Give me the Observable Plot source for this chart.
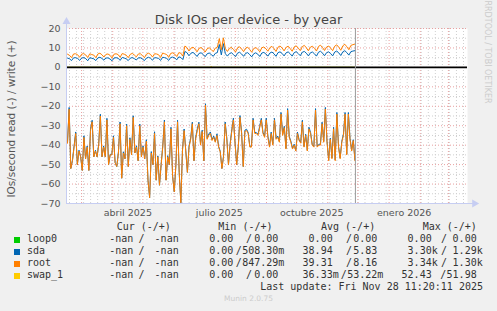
<!DOCTYPE html>
<html><head><meta charset="utf-8">
<script src="https://cdn.jsdelivr.net/npm/d3@7"></script>
<script src="https://cdn.jsdelivr.net/npm/@observablehq/plot@0.6"></script>
<style>
body{margin:0;background:#f0f0f0;}
#wrap{position:relative;width:497px;height:311px;overflow:hidden;background:#f0f0f0;font-family:"DejaVu Sans";}
#chart{position:absolute;left:0;top:0;}
.t{position:absolute;white-space:pre;}
.mono{font-family:"DejaVu Sans Mono";font-size:10px;line-height:10px;color:#333;}
</style></head><body><div id="wrap"><div id="chart"></div></div>
<script>
// ---------- data ----------
const title = "Disk IOs per device - by year";
const yLabel = "IOs/second read (-) / write (+)";
const sideText = "RRDTOOL / TOBI OETIKER";
const footer = "Munin 2.0.75";
const lastUpdate = "Last update: Fri Nov 28 11:20:11 2025";

const xDomain = ["2025-02-14", "2026-03-20"];
const nowTime = "2025-11-28T11:20:11Z";
const dataStart = "2025-02-15";
const dataEnd = "2025-11-28";

const xLabelDates = ["2025-04-16", "2025-07-16", "2025-10-16", "2026-01-16"];
const xLabels = ["abril 2025", "julio 2025", "octubre 2025", "enero 2026"];
const yMajor = [20, 10, 0, -10, -20, -30, -40, -50, -60, -70];
const yMinor = [15, 5, -5, -15, -25, -35, -45, -55, -65];

// read (negative) series
const rootRead = [-39,-21.5,-52,-48,-41,-34,-50,-43,-46,-53,-36,-47,-41,-53,-32.5,-28,-46,-43,-46,-40,-25,-46,-41,-46,-27,-50,-45,-45,-36,-49,-51,-44,-29,-57,-44,-47,-30,-51,-37,-45,-25.7,-44,-41,-48,-30,-46,-41,-47,-38,-58,-67,-44,-50,-34,-58,-46,-60.6,-50,-41,-28,-58,-46,-50,-31.6,-56,-64,-50,-28,-54,-69.6,-43,-32.5,-43,-54,-41,-37,-29,-48,-37,-32.5,-29,-40,-33,-48,
 -19.5,-37,-35,-34,-37.6,-36,-38.5,-35,-41,-43.5,-52,-46,-29,-37,-50,-40,-33,-27,-39,-50,-41,-25.7,-34,-51,-33,-32.5,-34,-41,-41,-27,-34,-34,-35,-31,-27,-34,-36,-27,-36,-41,-34,-40,-27,-37,-36,-38.5,-24,-35,-31,-42,-22,-36,-38.5,-42,-40,-43,-34,-37.6,-39,-28,-41,-35,-43,-31.6,-34,-40,-41,-22,-41,-40,-40,-29,-38.5,-21.4,-38.5,-48,-37,-47,-31.6,-48,-24,-41,-47,-38.5,-35,-24,-45,-24,-37,-43,-37.6,-48];
const sdaRead = [-38.5,-20.6,-52,-48,-40.5,-33.2,-50,-42.6,-46,-53,-35.2,-47,-40.4,-53,-31.8,-27.2,-46,-42.6,-46,-39.3,-24.1,-46,-40.4,-46,-26.2,-50,-44.7,-44.8,-35.2,-49,-51,-43.5,-28.1,-57,-43.4,-47,-29.2,-51,-36.2,-45,-24.9,-44,-40.3,-48,-29.2,-46,-40.4,-47,-37.2,-58,-67,-43.3,-50,-33.1,-58,-45.5,-60.6,-50,-40.3,-27.1,-58,-45.4,-50,-30.8,-56,-64,-50,-27.2,-54,-69.6,-42.4,-31.7,-42.6,-54,-40.4,-36.3,-28.2,-48,-36.3,-31.7,-28.2,-39.4,-32.3,-48,
 -18.7,-36.5,-34.3,-33.2,-37.2,-35.3,-38.2,-34.2,-40.6,-43.2,-52,-45.5,-28.1,-36.4,-50,-39.3,-32.2,-26.1,-38.6,-50,-40.4,-24.8,-33.4,-51,-32.3,-31.8,-33.5,-40.6,-40.5,-26.2,-33.4,-33.6,-34.4,-30.3,-26.2,-33.4,-35.5,-26.1,-35.4,-40.6,-33.3,-39.5,-26.2,-36.5,-35.3,-38.1,-23.2,-34.4,-30.3,-41.6,-21.2,-35.5,-38,-41.6,-39.5,-42.7,-33.3,-37.2,-38.5,-27.2,-40.6,-34.4,-42.6,-30.8,-33.5,-39.6,-40.6,-21.2,-40.5,-39.6,-39.4,-28.2,-38,-20.6,-38,-47.6,-36.4,-46.6,-30.8,-47.6,-23.2,-40.5,-46.6,-38,-34.3,-23.2,-44.6,-23.2,-36.5,-42.6,-37.2,-47.6];

// write (positive) series
const rootWrite = [6.8,6.2,5.0,6.9,7.0,6.5,5.2,6.8,7.1,6.4,5.1,7.0,6.6,6.3,5.0,6.9,7.3,6.5,5.3,6.7,6.9,6.2,4.9,6.8,7.0,6.6,5.2,7.1,6.8,6.3,5.0,6.7,7.2,6.4,5.4,6.9,7.0,6.1,5.0,6.8,7.3,6.7,5.3,7.0,6.9,6.5,5.1,7.4,7.0,6.6,5.2,7.2,7.5,6.8,5.6,7.6,7.3,5.8,
 11.0,10.2,8.4,9.9,10.4,9.4,8.0,9.8,10.2,9.3,7.9,9.6,10.1,9.2,8.1,9.9,10.3,14.8,9.0,15.2,9.6,8.2,9.8,10.3,9.2,7.9,10.0,10.6,9.5,8.1,9.9,10.4,9.2,7.8,9.7,10.2,9.4,8.0,10.1,10.5,9.6,8.3,10.2,10.8,9.7,8.2,10.4,11.0,10.0,8.5,10.3,10.9,9.7,8.3,10.5,11.1,9.9,8.6,10.7,11.3,10.1,8.5,10.4,10.9,9.8,8.4,10.8,11.4,10.2,8.7,10.5,11.0,9.9,8.6,10.9,11.6,10.4,8.8,11.1,11.9,10.6,9.1,11.3,11.7,12.0];
const sdaWrite = [4.8,4.4,3.5,4.9,5.0,4.6,3.6,4.8,5.1,4.5,3.4,5.0,4.7,4.4,3.5,4.9,5.2,4.6,3.7,4.8,4.9,4.3,3.4,4.8,5.0,4.7,3.6,5.1,4.8,4.4,3.5,4.7,5.1,4.5,3.8,4.9,5.0,4.3,3.5,4.8,5.2,4.7,3.7,5.0,4.9,4.6,3.6,5.2,5.0,4.6,3.6,5.1,5.3,4.8,3.9,5.4,5.1,4.0,
 8.2,7.6,6.0,7.3,7.7,6.8,5.6,7.2,7.5,6.7,5.5,7.0,7.4,6.6,5.7,7.2,7.6,11.8,6.4,12.2,7.0,5.8,7.1,7.5,6.6,5.5,7.3,7.8,6.9,5.7,7.2,7.6,6.6,5.4,7.0,7.5,6.8,5.6,7.4,7.7,6.9,5.8,7.4,7.9,7.0,5.7,7.6,8.0,7.2,5.9,7.5,8.0,7.0,5.8,7.6,8.1,7.1,6.0,7.8,8.2,7.3,5.9,7.5,7.9,7.0,5.8,7.8,8.3,7.3,6.0,7.6,8.0,7.1,5.9,7.9,8.4,7.5,6.1,8.0,8.6,7.6,6.3,8.1,8.4,8.6];
const loop0Pts = [["2025-02-15", 0], ["2025-11-28", 0]];
const swapWritePts = [["2025-02-15", 0], ["2025-07-07", 0], ["2025-07-08", 0.6], ["2025-07-09", 0], ["2025-11-28", 0]];
const swapReadPts = [["2025-02-15", 0], ["2025-11-28", 0]];

// legend
const legendNames = ["loop0", "sda", "root", "swap_1"];
const legendColors = ["#00cc00", "#0066b3", "#ff8000", "#ffcc00"];
const legendHeaders = ["Cur (-/+)", "Min (-/+)", "Avg (-/+)", "Max (-/+)"];
const curVals = [["-nan","-nan"],["-nan","-nan"],["-nan","-nan"],["-nan","-nan"]];
const minVals = [["0.00","0.00"],["0.00","508.30m"],["0.00","847.29m"],["0.00","0.00"]];
const avgVals = [["0.00","0.00"],["38.94","5.83"],["39.31","8.16"],["36.33m","53.22m"]];
const maxVals = [["0.00","0.00"],["3.30k","1.29k"],["3.34k","1.30k"],["52.43","51.98"]];

// ---------- build ----------
const x0 = new Date(xDomain[0]), x1 = new Date(xDomain[1]);
function spread(vals){
  const s = +new Date(dataStart), e = +new Date(dataEnd);
  return vals.map((v,i)=>({date:new Date(s+(e-s)*i/(vals.length-1)), value:v}));
}
const pts = a => a.map(([d,v])=>({date:new Date(d), value:v}));
const labelMap = new Map(xLabelDates.map((d,i)=>[+new Date(d), xLabels[i]]));
const months = d3.utcMonth.range(x0, x1);
const weeks = d3.utcMonday.range(x0, x1);
const axisEnd = d3.utcDay.offset(x1, 7);
const axisCol = "#c6cdf2";
const majorCol = "#e9a0a0", minorCol = "#cfcfcf";

const chart = Plot.plot({
  width: 497, height: 222,
  marginLeft: 66, marginRight: 30, marginTop: 28, marginBottom: 19,
  style: {background: "transparent", fontFamily: "DejaVu Sans", fontSize: "9.5px", color: "#555"},
  x: {type: "utc", domain: [x0, x1], ticks: xLabelDates.map(d=>new Date(d)), tickFormat: d => labelMap.get(+d) ?? "", tickSize: 0, tickPadding: 6, label: null},
  y: {domain: [-70, 20], ticks: yMajor, tickSize: 0, tickPadding: 6, label: null},
  marks: [
    Plot.frame({fill: "white", stroke: "none"}),
    Plot.ruleX(weeks, {stroke: minorCol, strokeDasharray: "1,2"}),
    Plot.ruleY(yMinor, {stroke: minorCol, strokeDasharray: "1,2"}),
    Plot.ruleX(months, {stroke: majorCol, strokeDasharray: "1,2"}),
    Plot.ruleY(yMajor, {stroke: majorCol, strokeDasharray: "1,2"}),
    Plot.line(pts(loop0Pts), {x: "date", y: "value", stroke: legendColors[0], strokeWidth: 1}),
    Plot.line(spread(sdaRead), {x: "date", y: "value", stroke: legendColors[1], strokeWidth: 1}),
    Plot.line(spread(sdaWrite), {x: "date", y: "value", stroke: legendColors[1], strokeWidth: 1}),
    Plot.line(spread(rootRead), {x: "date", y: "value", stroke: legendColors[2], strokeWidth: 1}),
    Plot.line(spread(rootWrite), {x: "date", y: "value", stroke: legendColors[2], strokeWidth: 1}),
    Plot.line(pts(swapReadPts), {x: "date", y: "value", stroke: legendColors[3], strokeWidth: 1}),
    Plot.line(pts(swapWritePts), {x: "date", y: "value", stroke: legendColors[3], strokeWidth: 1}),
    Plot.ruleY([0], {stroke: "#000", strokeWidth: 1.8}),
    Plot.ruleX([new Date(nowTime)], {stroke: "#999", strokeWidth: 1}),
    Plot.ruleX([x0], {y1: -70, y2: 22.5, stroke: axisCol}),
    Plot.ruleY([-70], {x1: x0, x2: axisEnd, stroke: axisCol}),
    Plot.dot([{d: x0, v: 23.5}], {x: "d", y: "v", symbol: "triangle", r: 3, fill: axisCol, stroke: "none"}),
    Plot.dot([{d: axisEnd, v: -70}], {x: "d", y: "v", symbol: "triangle", r: 3, rotate: 90, fill: axisCol, stroke: "none"})
  ]
});
document.getElementById("chart").appendChild(chart);

// ---------- text ----------
const wrap = document.getElementById("wrap");
function addText(txt, css, cls){
  const d = document.createElement("div");
  d.className = "t" + (cls ? " " + cls : "");
  d.textContent = txt;
  Object.assign(d.style, css);
  wrap.appendChild(d);
  return d;
}
addText(title, {left: "0px", width: "497px", textAlign: "center", top: "13px", fontSize: "13px", lineHeight: "13px", color: "#444"});
addText(yLabel, {left: "11px", top: "119px", fontSize: "10.5px", lineHeight: "10.5px", color: "#555", transform: "translate(-50%,-50%) rotate(-90deg)"});
addText(sideText, {left: "487px", top: "52px", fontSize: "8px", lineHeight: "8px", color: "#cccccc", transform: "translate(-50%,-50%) rotate(90deg)"});
addText(footer, {left: "0px", width: "497px", textAlign: "center", top: "295px", fontSize: "7.5px", lineHeight: "7.5px", color: "#cccccc"});

const CW = 6.02;
const baseHead = 230.5, rowStep = 12;
const colLeftHead = [116.7, 218.3, 321, 422.7];
const colL = [139.3, 239.3, 338.7, 437.7], colS = [138.5, 246, 346, 441], colR = [184.7, 284.3, 383.3, 482.7];
legendHeaders.forEach((h,i)=>addText(h, {left: colLeftHead[i] + "px", top: (baseHead - 8.46) + "px"}, "mono"));
const hasUnit = s => /[mk]$/.test(s);
const cols = [curVals, minVals, avgVals, maxVals];
legendNames.forEach((n,r)=>{
  const base = baseHead + rowStep*(r+1);
  const top = (base - 8.46) + "px";
  const sq = document.createElement("div");
  Object.assign(sq.style, {position: "absolute", left: "14px", top: (base - 6) + "px", width: "6px", height: "6px", background: legendColors[r]});
  wrap.appendChild(sq);
  addText(n, {left: "27px", top}, "mono");
  cols.forEach((c,k)=>{
    const [a, b] = c[r];
    const aRight = hasUnit(a) ? colL[k] : colL[k] - CW;
    const bRight = hasUnit(b) ? colR[k] : colR[k] - CW;
    const bLeft = bRight - b.length*CW;
    const sx = Math.max(aRight + 0.4, Math.min(colS[k], bLeft - CW - 0.4));
    addText(a, {right: (497 - aRight) + "px", top}, "mono");
    addText("/", {left: sx + "px", top}, "mono");
    addText(b, {right: (497 - bRight) + "px", top}, "mono");
  });
});
addText(lastUpdate, {right: (497 - 483) + "px", top: (baseHead + rowStep*5 - 8.46) + "px"}, "mono");
</script></body></html>
